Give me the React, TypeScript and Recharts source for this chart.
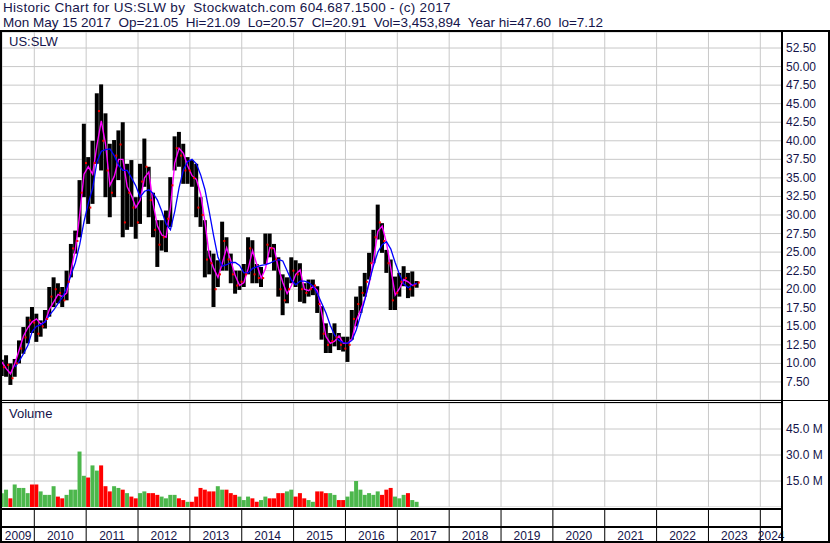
import React from "react";
import { ComposedChart, Bar, Line, Scatter, XAxis, YAxis, CartesianGrid, Cell } from "recharts";

// monthly bars, May 2009 .. May 2017 (price in US$, volume in millions)
const firstMonth = 4;

const high = [
  10.5, 11.1, 10.0, 10.6, 13.1, 14.9, 16.3, 17.6, 16.7, 15.8,
  17.2, 20.3, 21.6, 20.8, 20.3, 22.5, 26.1, 27.9, 34.7, 42.3,
  37.8, 40.0, 46.4, 47.6, 43.7, 39.6, 40.1, 41.4, 42.5, 36.9,
  37.4, 32.4, 36.9, 40.3, 36.5, 33.0, 29.3, 29.3, 30.6, 35.1,
  40.6, 41.2, 39.6, 37.8, 37.4, 36.9, 32.4, 29.3, 25.2, 24.8,
  23.9, 29.1, 27.0, 24.8, 22.5, 22.5, 23.4, 27.0, 26.6, 23.4,
  23.0, 27.5, 27.5, 26.1, 24.3, 22.0, 21.6, 24.3, 23.9, 23.5,
  20.8, 21.3, 21.3, 20.4, 17.7, 15.4, 14.1, 15.4, 14.1, 13.6,
  13.6, 17.2, 19.0, 20.4, 22.2, 24.9, 28.0, 31.4, 28.9, 25.3,
  24.0, 21.7, 22.2, 23.1, 22.2, 22.4, 21.1,
];

const low = [
  8.3, 8.2, 7.1, 8.2, 10.0, 11.3, 12.7, 14.1, 12.9, 13.6,
  14.7, 16.3, 17.6, 18.1, 17.6, 18.5, 21.6, 24.8, 27.0, 32.4,
  28.8, 31.5, 36.9, 36.0, 32.4, 29.7, 32.4, 34.7, 27.0, 28.0,
  28.4, 26.8, 28.8, 33.8, 29.7, 27.0, 23.0, 25.2, 25.0, 28.4,
  36.0, 36.5, 34.2, 34.2, 33.8, 29.7, 28.4, 21.6, 22.0, 17.6,
  20.3, 22.5, 22.5, 20.8, 19.4, 19.9, 20.3, 22.0, 20.8, 20.8,
  20.3, 23.4, 24.3, 22.5, 19.0, 16.5, 18.1, 20.8, 20.3, 18.3,
  18.1, 19.0, 19.2, 16.8, 13.2, 11.4, 11.4, 12.3, 11.8, 11.6,
  10.2, 13.2, 15.0, 16.8, 19.0, 21.3, 23.5, 26.7, 24.9, 22.2,
  17.2, 17.2, 19.0, 20.4, 18.8, 19.0, 20.2,
];

const close = [
  9.5, 9.8, 8.0, 10.0, 12.0, 13.5, 15.8, 15.5, 14.0, 15.0,
  16.0, 19.0, 20.0, 19.5, 18.5, 21.0, 25.5, 26.5, 33.0, 37.0,
  31.0, 37.0, 44.0, 40.0, 36.0, 33.0, 38.0, 39.5, 29.0, 33.0,
  31.0, 29.0, 34.5, 36.5, 32.0, 28.0, 26.0, 27.0, 29.5, 34.0,
  39.0, 38.0, 36.0, 36.0, 35.0, 31.0, 30.0, 24.0, 23.5, 20.0,
  22.0, 26.5, 24.0, 22.0, 20.5, 21.0, 22.0, 25.5, 22.0, 21.5,
  21.5, 26.0, 25.5, 24.0, 20.0, 18.5, 20.0, 22.5, 22.0, 20.0,
  19.5, 20.0, 20.5, 18.0, 14.0, 12.5, 13.0, 13.5, 12.5, 12.0,
  12.5, 16.0, 18.0, 19.5, 21.0, 23.5, 27.0, 29.0, 26.5, 23.5,
  18.5, 19.5, 21.0, 21.5, 20.0, 20.5, 20.9,
];

// magenta (short) average
const fastMa = [
  10.2, 9.3, 8.6, 10.0, 11.8, 13.7, 14.8, 15.6, 16.0, 15.3,
  15.6, 17.3, 18.3, 19.3, 19.0, 19.5, 22.6, 25.4, 30.0, 35.5,
  36.5, 35.5, 39.4, 42.7, 39.5, 34.0, 35.2, 37.5, 37.5, 33.8,
  32.6, 31.0, 32.0, 35.0, 35.8, 31.5, 28.5, 27.3, 27.0, 31.0,
  37.0, 39.0, 38.3, 36.6, 35.3, 34.8, 32.8, 29.0, 24.5, 22.8,
  21.6, 23.5, 25.6, 23.8, 21.8, 20.5, 20.9, 22.8, 25.2, 23.3,
  21.5, 22.8, 25.6, 25.5, 22.8, 20.9, 19.4, 20.5, 22.0, 22.6,
  20.0, 19.8, 20.4, 19.8, 16.8, 13.6, 12.7, 13.0, 13.7, 12.7,
  12.7, 13.3, 15.8, 17.2, 18.7, 20.8, 24.0, 27.8, 28.5, 26.2,
  22.8, 19.2, 20.1, 21.3, 21.0, 20.5, 20.8,
];

// blue (long) average
const slowMa = [
  null, null, null, 9.5, 10.3, 11.3, 12.4, 14.3, 15.0, 15.2,
  15.6, 16.5, 17.2, 18.1, 18.9, 20.2, 21.9, 23.6, 26.0, 29.1,
  31.6, 33.6, 37.2, 38.6, 38.8, 38.9, 38.0, 36.7, 36.0, 36.0,
  35.0, 33.9, 32.4, 33.2, 33.4, 32.9, 32.0, 30.5, 28.8, 28.0,
  30.5, 33.7, 36.1, 37.2, 37.5, 36.9, 35.4, 33.4, 30.4, 27.2,
  24.3, 23.1, 23.3, 23.6, 23.6, 23.2, 22.2, 22.2, 22.8, 23.0,
  23.2, 23.3, 23.5, 23.8, 24.0, 23.8, 22.5, 21.2, 20.6, 21.1,
  21.1, 20.9, 20.4, 19.4, 18.1, 16.8, 15.1, 13.8, 13.1, 12.8,
  12.7, 13.1, 14.5, 16.5, 18.6, 21.0, 23.2, 25.0, 26.0, 26.4,
  25.4, 23.6, 22.0, 20.7, 20.2, 20.6, 20.8,
];

const volume = [
  8, 10, 5, 13, 11, 11, 8, 13, 13, 9,
  7, 7, 12, 6, 5, 7, 10, 10, 32, 18,
  17, 24, 21, 24, 12, 9, 12, 11, 10, 8,
  6, 5, 8, 9, 8, 8, 7, 6, 5, 7,
  7, 5, 4, 3, 3, 6, 11, 10, 9, 9,
  12, 10, 10, 8, 7, 6, 4, 6, 5, 3,
  4, 6, 5, 5, 8, 8, 9, 10, 6, 8,
  5, 4, 3, 9, 9, 8, 8, 7, 4, 4,
  6, 9, 15, 10, 7, 8, 7, 9, 7, 10,
  11, 6, 5, 7, 8, 4, 3,
];

const priceTicks = [7.5, 10, 12.5, 15, 17.5, 20, 22.5, 25, 27.5, 30, 32.5, 35, 37.5, 40, 42.5, 45, 47.5, 50, 52.5];
const volumeTicks = [15, 30, 45];
const yearLines = [2010, 2011, 2012, 2013, 2014, 2015, 2016, 2017, 2018, 2019, 2020, 2021, 2022, 2023, 2024];
const yearLabels = [2009, ...yearLines];

const X_MIN = 2009.377;
const X_MAX = 2024.418;

const rows = high.map((h, i) => ({
  t: 2009 + (firstMonth + i + 0.5) / 12,
  hl: [low[i], h],
  close: close[i],
  ma1: fastMa[i],
  ma2: slowMa[i],
  vol: volume[i],
  up: i === 0 || close[i] >= close[i - 1],
}));

// label sits in the middle of the visible part of each year
const labelCenters = yearLabels.map((y) => (Math.max(y, X_MIN) + Math.min(y + 1, X_MAX)) / 2);
const bottomTicks = [...yearLines, ...labelCenters].sort((a, b) => a - b);

const ink = "#14144a";
const grid = "#c8c8c8";
const font = "'Liberation Sans', Arial, sans-serif";
const W = 828;

const CloseMark = (props: any) => {
  if (props.cx == null || props.cy == null) return null;
  return <rect x={props.cx + 1} y={props.cy - 1} width={2} height={2} fill="#ff0000" />;
};

const RightTick = (props: any) => {
  const { x, y, payload, fmt } = props;
  return (
    <text x={x} y={y} dy={4} textAnchor="start" fontSize={12} fill={ink} fontFamily={font}>
      {fmt(payload.value)}
    </text>
  );
};

const YearTick = (props: any) => {
  const { x, payload } = props;
  const v = payload.value;
  if (Number.isInteger(v)) {
    return <line x1={x} x2={x} y1={1} y2={32} stroke="#000" strokeWidth={1} />;
  }
  return (
    <text x={x} y={31} textAnchor="middle" fontSize={12} fill={ink} fontFamily={font}>
      {Math.floor(v)}
    </text>
  );
};

const box = (left: number, top: number, width: number, height: number) => (
  <div style={{ position: "absolute", left, top, width, height, background: "#000" }} />
);

const titleLine = (top: number, text: string, spacing: number) => (
  <div
    style={{
      position: "absolute",
      left: 3,
      top,
      fontSize: 13.5,
      lineHeight: "14px",
      height: 14,
      letterSpacing: spacing,
      whiteSpace: "pre",
    }}
  >
    {text}
  </div>
);

export default function App() {
  return (
    <div
      style={{
        position: "absolute",
        left: 0,
        top: 0,
        width: 830,
        height: 543,
        background: "#fff",
        overflow: "hidden",
        fontFamily: font,
        color: ink,
      }}
    >
      {titleLine(0.5, "Historic Chart for US:SLW by  Stockwatch.com 604.687.1500 - (c) 2017", 0.3)}
      {titleLine(16, "Mon May 15 2017  Op=21.05  Hi=21.09  Lo=20.57  Cl=20.91  Vol=3,453,894  Year hi=47.60  lo=7.12", 0)}

      {/* price panel */}
      <div style={{ position: "absolute", left: 0, top: 32 }}>
        <ComposedChart width={W} height={368} data={rows} margin={{ top: 0, right: 0, left: 2, bottom: 0 }}>
          <CartesianGrid stroke={grid} strokeWidth={1} />
          <XAxis dataKey="t" type="number" domain={[X_MIN, X_MAX]} ticks={yearLines} allowDataOverflow hide />
          <YAxis
            orientation="right"
            width={46}
            domain={[5.07, 54.66]}
            allowDataOverflow
            ticks={priceTicks}
            interval={0}
            axisLine={false}
            tickLine={false}
            tickSize={0}
            tickMargin={4}
            tick={<RightTick fmt={(v: number) => v.toFixed(2)} />}
          />
          <Bar dataKey="hl" fill="#000" barSize={4} isAnimationActive={false} />
          <Scatter dataKey="close" shape={CloseMark} isAnimationActive={false} />
          <Line dataKey="ma1" stroke="#ff00ff" strokeWidth={1.4} dot={false} type="linear" isAnimationActive={false} />
          <Line dataKey="ma2" stroke="#0000ff" strokeWidth={1.3} dot={false} type="linear" isAnimationActive={false} />
        </ComposedChart>
      </div>
      <div style={{ position: "absolute", left: 9, top: 35, fontSize: 13, lineHeight: "13px" }}>US:SLW</div>

      {/* volume panel */}
      <div style={{ position: "absolute", left: 0, top: 403 }}>
        <ComposedChart width={W} height={104} data={rows} margin={{ top: 0, right: 0, left: 2, bottom: 0 }}>
          <CartesianGrid stroke={grid} strokeWidth={1} />
          <XAxis dataKey="t" type="number" domain={[X_MIN, X_MAX]} ticks={yearLines} allowDataOverflow hide />
          <YAxis
            orientation="right"
            width={46}
            domain={[0, 60]}
            allowDataOverflow
            ticks={volumeTicks}
            interval={0}
            axisLine={false}
            tickLine={false}
            tickSize={0}
            tickMargin={4}
            tick={<RightTick fmt={(v: number) => `${v.toFixed(1)} M`} />}
          />
          <Bar dataKey="vol" barSize={4} isAnimationActive={false}>
            {rows.map((r, i) => (
              <Cell key={i} fill={r.up ? "#4cb74c" : "#ff0000"} />
            ))}
          </Bar>
        </ComposedChart>
      </div>
      <div style={{ position: "absolute", left: 9, top: 407, fontSize: 13, lineHeight: "13px" }}>Volume</div>

      {/* year axis */}
      <div style={{ position: "absolute", left: 0, top: 509 }}>
        <ComposedChart width={W} height={33} data={rows} margin={{ top: 0, right: 46, left: 2, bottom: 0 }}>
          <XAxis
            dataKey="t"
            type="number"
            domain={[X_MIN, X_MAX]}
            ticks={bottomTicks}
            interval={0}
            allowDataOverflow
            axisLine={false}
            tickLine={false}
            tick={YearTick}
          />
        </ComposedChart>
      </div>

      {/* frame */}
      {box(0, 30, 830, 2)}
      {box(0, 30, 2, 513)}
      {box(828, 30, 2, 513)}
      {box(0, 541, 830, 2)}
      {box(0, 400, 830, 1)}
      {box(0, 402, 782, 1)}
      {box(0, 508, 782, 2)}
      {box(0, 526, 782, 2)}
      {box(781, 30, 2, 513)}
    </div>
  );
}
